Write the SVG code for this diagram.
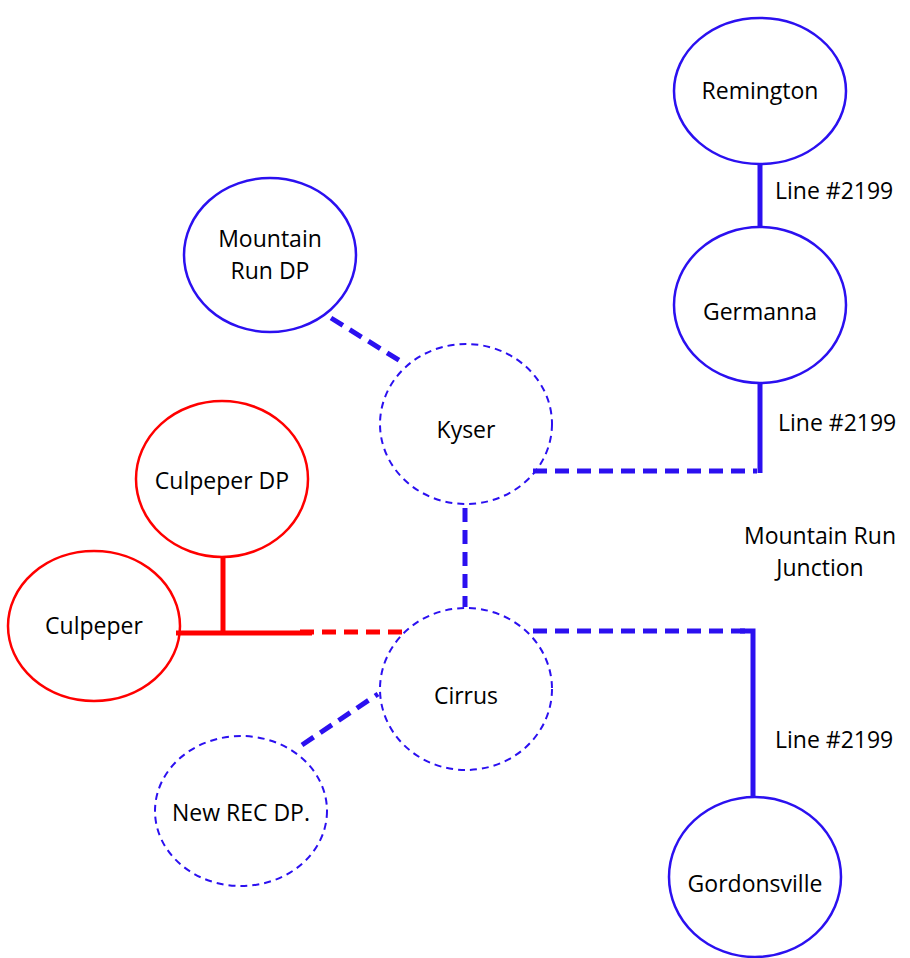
<svg xmlns="http://www.w3.org/2000/svg" width="910" height="958" viewBox="0 0 910 958">
<style>
.n{fill:#fff;stroke:#2B10F0;stroke-width:2.5}
.d{fill:#fff;stroke:#2B10F0;stroke-width:2;stroke-dasharray:7 5}
.r{fill:#fff;stroke:#FF0000;stroke-width:2.5}
text{font-family:"Open Sans","Liberation Sans",Arial,sans-serif;font-size:23px;fill:#000;text-anchor:middle}
.lb{text-anchor:start}
.bs{stroke:#2B10F0;stroke-width:5;fill:none}
.bd{stroke:#2B10F0;stroke-width:5;fill:none;stroke-dasharray:14 8}
.rs{stroke:#FF0000;stroke-width:5;fill:none}
.rd{stroke:#FF0000;stroke-width:5;fill:none;stroke-dasharray:14 8}
</style>
<rect width="910" height="958" fill="#fff"/>
<g id="remington"><ellipse class="n" cx="760" cy="91" rx="86" ry="73"/><text x="760" y="99">Remington</text></g>
<g id="germanna"><ellipse class="n" cx="760" cy="305" rx="86" ry="78"/><text x="760" y="320">Germanna</text></g>
<g id="mountain-run-dp"><ellipse class="n" cx="270" cy="255" rx="86" ry="77"/><text x="270" y="247">Mountain</text><text x="270" y="279">Run DP</text></g>
<g id="kyser"><ellipse class="d" cx="466" cy="424" rx="86" ry="80"/><text x="466" y="438">Kyser</text></g>
<g id="culpeper-dp"><ellipse class="r" cx="222" cy="479" rx="86" ry="78"/><text x="222" y="489">Culpeper DP</text></g>
<g id="culpeper"><ellipse class="r" cx="94" cy="626" rx="86" ry="75"/><text x="94" y="634">Culpeper</text></g>
<g id="cirrus"><ellipse class="d" cx="466" cy="689" rx="86" ry="81"/><text x="466" y="704">Cirrus</text></g>
<g id="new-rec-dp"><ellipse class="d" cx="241" cy="811" rx="86" ry="75"/><text x="241" y="821">New REC DP.</text></g>
<g id="gordonsville"><ellipse class="n" cx="755" cy="877" rx="86" ry="80"/><text x="755" y="892">Gordonsville</text></g>
<g id="connectors">
<line class="bs" x1="760" y1="164" x2="760" y2="226"/>
<line class="bs" x1="760" y1="382" x2="760" y2="473"/>
<line class="bd" x1="533" y1="471" x2="757" y2="471"/>
<line class="bd" x1="465" y1="508" x2="465" y2="607"/>
<line class="bd" x1="331" y1="318" x2="405" y2="364"/>
<line class="bd" x1="533" y1="631" x2="751" y2="631"/>
<polyline class="bs" points="740,631 753,631 753,797"/>
<line class="rs" x1="176" y1="633" x2="312" y2="633"/>
<line class="rd" x1="300" y1="632" x2="405" y2="632"/>
<line class="rs" x1="223" y1="558" x2="223" y2="633"/>
<line class="bd" x1="302" y1="745" x2="378" y2="694"/>
</g>
<g id="labels">
<text class="lb" x="775" y="199">Line #2199</text>
<text class="lb" x="778" y="431">Line #2199</text>
<text class="lb" x="775" y="748">Line #2199</text>
<text x="820" y="544">Mountain Run</text>
<text x="820" y="576">Junction</text>
</g>
</svg>
